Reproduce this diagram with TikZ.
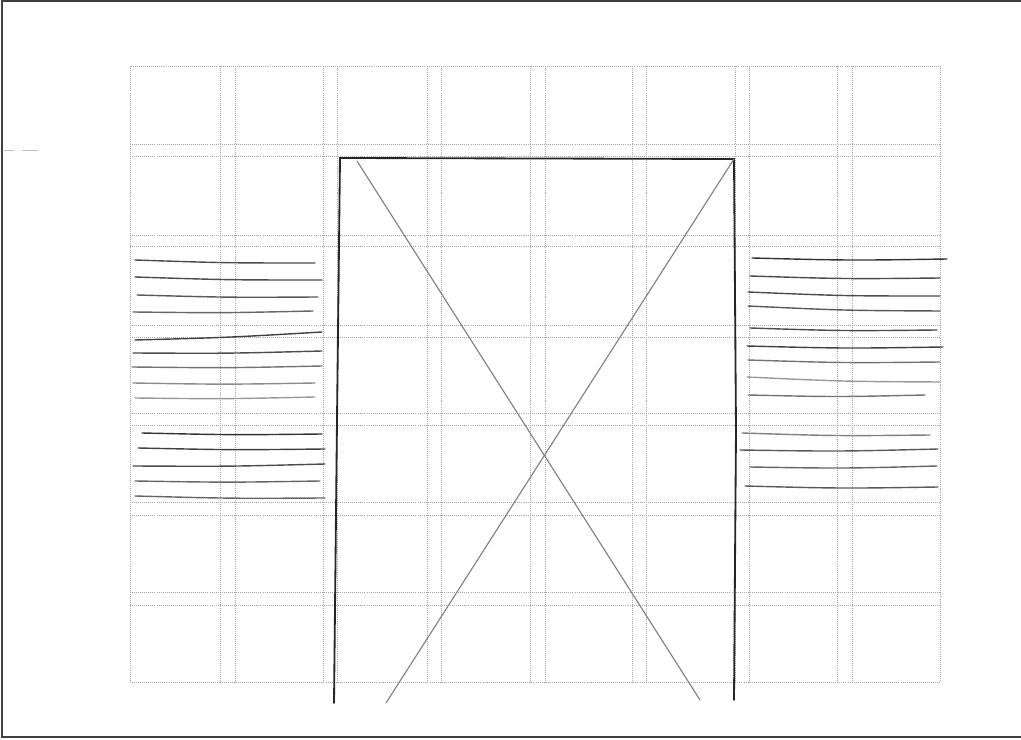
\documentclass[tikz,border=0pt]{standalone}
\usepackage{tikz}
\usetikzlibrary{calc}

\begin{document}
\begin{tikzpicture}[
    x=0.025cm, y=-0.025cm,
    % Define styles for the sketch
    frame/.style={draw=black!75, line width=1.2pt},
    grid_line/.style={draw=black!35, densely dotted, line width=0.45pt},
    box_edge/.style={draw=black!85, line width=1.3pt, line cap=round},
    cross_edge/.style={draw=black!50, line width=0.8pt, line cap=round},
    hatch/.style={line width=1.0pt, line cap=round}
]

    % --- Page size ---
    \useasboundingbox (0,0) rectangle (1021,740);
    \draw[frame] (1021,1) -- (2,1) -- (2,737) -- (1021,737);

    % --- Configuration ---
    \def\gridLeft{130}   % left edge of the grid
    \def\gridRight{940}  % right edge of the grid
    \def\gridTop{66}     % top edge of the grid
    \def\gridBottom{682} % bottom edge of the grid

    % ================= GRID =================
    \draw[grid_line] (\gridLeft,\gridTop) rectangle (\gridRight,\gridBottom);
    % column gutters
    \foreach \xa/\xb in {220/235, 323/337, 427/441, 530/545, 632/646, 735/749, 837/852} {
        \draw[grid_line] (\xa,\gridTop) -- (\xa,\gridBottom);
        \draw[grid_line] (\xb,\gridTop) -- (\xb,\gridBottom);
    }
    % row gutters
    \foreach \ya/\yb in {144/156, 235/246, 325/337, 413/425, 502/515, 592/605} {
        \draw[grid_line] (\gridLeft,\ya) -- (\gridRight,\ya);
        \draw[grid_line] (\gridLeft,\yb) -- (\gridRight,\yb);
    }

    % ================= CENTRAL BOX =================
    \coordinate (box_tl) at (340,158);
    \coordinate (box_tr) at (734,159);
    \coordinate (box_bl) at (334,703);
    \coordinate (box_br) at (734,700);
    \coordinate (x_tl) at (357,161);
    \coordinate (x_br) at (700,700);
    \coordinate (x_bl) at (386,703);

    \draw[box_edge] (box_bl) -- (337,420) -- (box_tl) -- (box_tr) -- (736,430) -- (box_br);
    % --- Cross ---
    \draw[cross_edge] (x_tl) -- (x_br);
    \draw[cross_edge] (box_tr) -- (x_bl);

    % ================= LEFT HATCHING =================
    % Arguments: x start / y start / x end / y end / shade
    \foreach \xa/\ya/\xb/\yb/\s in {
        135/260/315/263/70, 135/277/322/280/70, 137/295/318/297/65,
        133/312/313/311/60, 135/340/322/332/75, 133/353/322/351/70,
        132/367/322/366/55, 133/383/315/383/45, 135/398/315/397/40,
        142/433/322/434/80, 138/448/325/449/75, 133/466/325/464/70,
        135/481/320/481/60, 135/496/325/498/60} {
        \draw[hatch, draw=black!\s] (\xa,\ya) .. controls ($(\xa,\ya)!0.5!(\xb,\yb)+(0,1.5)$) .. (\xb,\yb);
    }

    % ================= RIGHT HATCHING =================
    \foreach \xa/\ya/\xb/\yb/\s in {
        752/258/947/259/80, 750/276/940/278/70, 748/292/940/296/70,
        748/306/940/311/65, 750/328/937/330/70, 747/346/943/347/75,
        748/360/940/362/55, 747/377/940/382/40, 748/395/925/395/55,
        742/433/930/435/50, 740/450/938/449/65, 750/467/937/466/60,
        745/486/938/487/65} {
        \draw[hatch, draw=black!\s] (\xa,\ya) .. controls ($(\xa,\ya)!0.5!(\xb,\yb)+(0,2)$) .. (\xb,\yb);
    }

    % --- Stray marks ---
    \draw[draw=black!25, line width=0.5pt] (4,150) -- (14,150);
    \draw[draw=black!25, line width=0.5pt] (22,150) -- (38,150);

\end{tikzpicture}
\end{document}
